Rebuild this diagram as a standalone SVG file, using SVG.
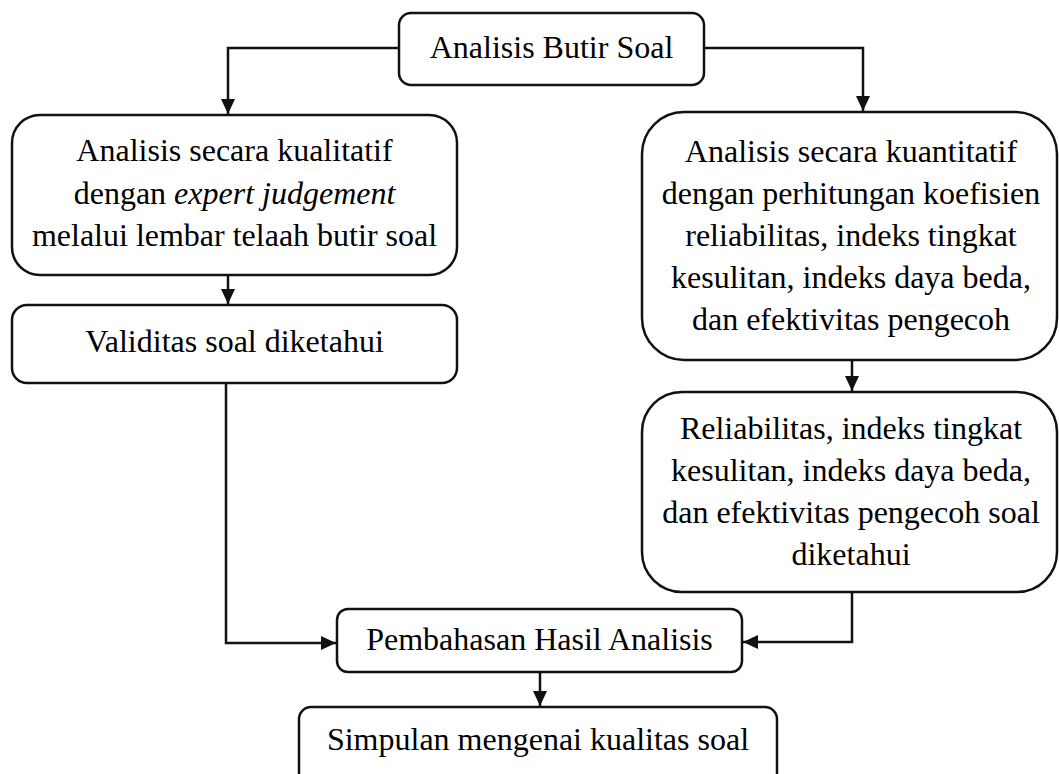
<svg xmlns="http://www.w3.org/2000/svg" width="1059" height="774" viewBox="0 0 1059 774">
<style>
.box{fill:#fff;stroke:#111;stroke-width:2.5}
.t{font-family:"Liberation Serif","Times New Roman",serif;font-size:32px;fill:#000;text-anchor:middle}
.c{fill:none;stroke:#111;stroke-width:2.5}
</style>
<defs>
<marker id="ah" markerUnits="userSpaceOnUse" markerWidth="16" markerHeight="14" refX="15" refY="7" orient="auto">
<path d="M0,0 L15,7 L0,14 Z" fill="#111"/>
</marker>
</defs>
<rect width="1059" height="774" fill="#fff"/>
<g id="connectors">
<path class="c" d="M399,48 H228 V114" marker-end="url(#ah)"/>
<path class="c" d="M704,48 H863 V111" marker-end="url(#ah)"/>
<path class="c" d="M228,275 V304" marker-end="url(#ah)"/>
<path class="c" d="M226,383 V643 H336" marker-end="url(#ah)"/>
<path class="c" d="M852,360 V391" marker-end="url(#ah)"/>
<path class="c" d="M852,592 V642 H743" marker-end="url(#ah)"/>
<path class="c" d="M540,672 V706" marker-end="url(#ah)"/>
</g>
<g id="n-top">
<rect class="box" x="399" y="13" width="305" height="72" rx="12"/>
<text class="t" x="551.5" y="58">Analisis Butir Soal</text>
</g>
<g id="n-kualitatif">
<rect class="box" x="12" y="115" width="445" height="160" rx="28"/>
<text class="t" x="234.5" y="161">Analisis secara kualitatif</text>
<text class="t" x="234.5" y="204">dengan <tspan font-style="italic">expert judgement</tspan></text>
<text class="t" x="234.5" y="246">melalui lembar telaah butir soal</text>
</g>
<g id="n-validitas">
<rect class="box" x="12" y="305" width="445" height="78" rx="15"/>
<text class="t" x="234.5" y="352">Validitas soal diketahui</text>
</g>
<g id="n-kuantitatif">
<rect class="box" x="642" y="112" width="415" height="248" rx="42"/>
<text class="t" x="851" y="162">Analisis secara kuantitatif</text>
<text class="t" x="851" y="204">dengan perhitungan koefisien</text>
<text class="t" x="851" y="246">reliabilitas, indeks tingkat</text>
<text class="t" x="851" y="288">kesulitan, indeks daya beda,</text>
<text class="t" x="851" y="330">dan efektivitas pengecoh</text>
</g>
<g id="n-reliabilitas">
<rect class="box" x="642" y="392" width="415" height="200" rx="40"/>
<text class="t" x="851" y="439">Reliabilitas, indeks tingkat</text>
<text class="t" x="851" y="481">kesulitan, indeks daya beda,</text>
<text class="t" x="851" y="523">dan efektivitas pengecoh soal</text>
<text class="t" x="851" y="565">diketahui</text>
</g>
<g id="n-pembahasan">
<rect class="box" x="337" y="609" width="405" height="63" rx="11"/>
<text class="t" x="539.5" y="650">Pembahasan Hasil Analisis</text>
</g>
<g id="n-simpulan">
<rect class="box" x="299" y="707" width="478" height="80" rx="12"/>
<text class="t" x="538" y="750">Simpulan mengenai kualitas soal</text>
</g>
</svg>
